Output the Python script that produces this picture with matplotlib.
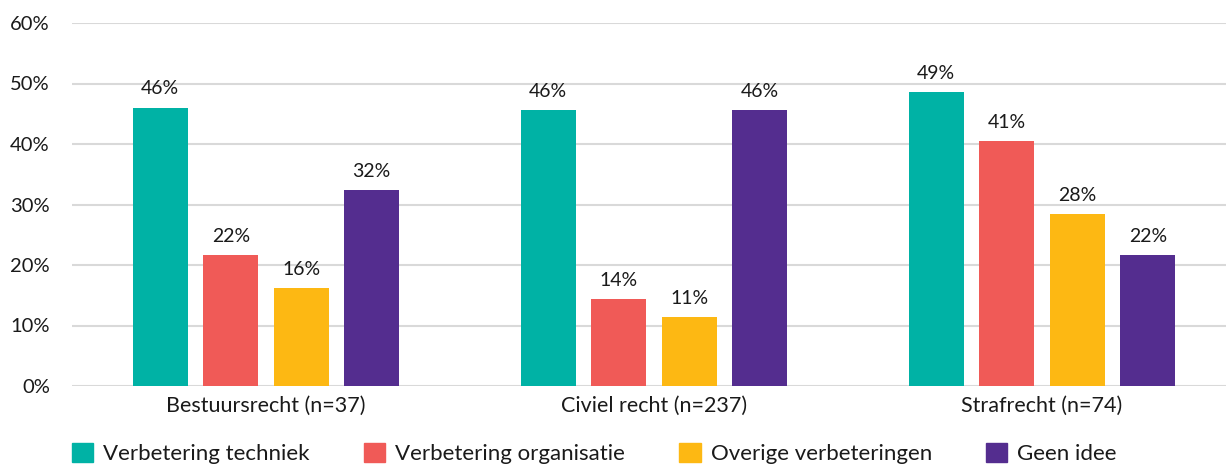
import numpy as np
import matplotlib.pyplot as plt
from matplotlib.patches import Patch

plt.rcParams['font.family'] = ['Lato', 'DejaVu Sans']

groups = ['Bestuursrecht (n=37)', 'Civiel recht (n=237)', 'Strafrecht (n=74)']
series = ['Verbetering techniek', 'Verbetering organisatie', 'Overige verbeteringen', 'Geen idee']
values = {
    'Verbetering techniek': [46, 45.6, 48.6],
    'Verbetering organisatie': [21.6, 14.3, 40.5],
    'Overige verbeteringen': [16.2, 11.4, 28.4],
    'Geen idee': [32.4, 45.6, 21.6],
}
labels = {
    'Verbetering techniek': ['46%', '46%', '49%'],
    'Verbetering organisatie': ['22%', '14%', '41%'],
    'Overige verbeteringen': ['16%', '11%', '28%'],
    'Geen idee': ['32%', '46%', '22%'],
}
colors = ['#00b2a5', '#f05a57', '#fdb813', '#542d8f']
txt = '#1a1a1a'

fig = plt.figure(figsize=(12.26, 4.66), dpi=100)
ax = fig.add_axes([72/1226, 80/466, 1154/1226, 363/466])

x = np.arange(len(groups))
step = 0.1817
width = 0.142
for i, (s, c) in enumerate(zip(series, colors)):
    pos = x + (i - 1.5) * step
    bars = ax.bar(pos, values[s], width, color=c, zorder=3)
    for b, lab in zip(bars, labels[s]):
        ax.text(b.get_x() + b.get_width() / 2, b.get_height() + 1.7, lab,
                ha='center', va='bottom', fontsize=14, color=txt)

ax.set_xlim(-0.5, -0.5 + 1154/388)
ax.set_ylim(0, 60)
ax.set_yticks(range(0, 61, 10))
ax.set_yticklabels([f'{v}%' for v in range(0, 61, 10)])
ax.set_xticks(x)
ax.set_xticklabels(groups)
ax.yaxis.grid(True, color='#d9d9d9', linewidth=1.5, zorder=0)
for sp in ax.spines.values():
    sp.set_visible(False)
ax.tick_params(axis='y', length=0, pad=16, labelsize=14.5, labelcolor=txt)
ax.tick_params(axis='x', length=0, pad=7, labelsize=15.5, labelcolor=txt)

handles = [Patch(color=c, label=s) for s, c in zip(series, colors)]
fig.legend(handles=handles, loc='lower left', bbox_to_anchor=(52/1226, -18.5/466),
           ncol=4, frameon=False, fontsize=16, handlelength=0.95, handleheight=0.95,
           handletextpad=0.45, columnspacing=2.45, labelcolor=txt)

fig.savefig('out.png', dpi=100)
